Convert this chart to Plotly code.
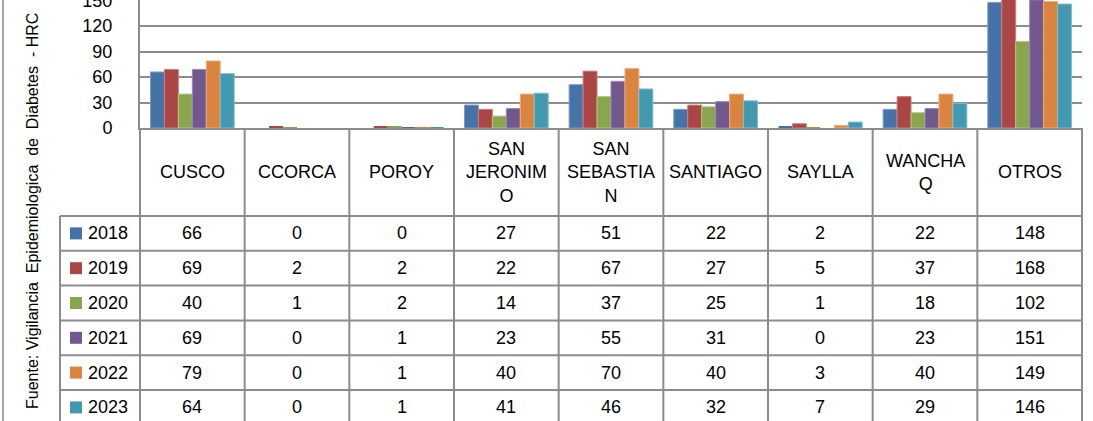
import plotly.graph_objects as go

# ---------------- data ----------------
categories = ["CUSCO", "CCORCA", "POROY", "SAN JERONIMO", "SAN SEBASTIAN",
              "SANTIAGO", "SAYLLA", "WANCHAQ", "OTROS"]
category_labels = ["CUSCO", "CCORCA", "POROY", "SAN<br>JERONIM<br>O",
                   "SAN<br>SEBASTIA<br>N", "SANTIAGO", "SAYLLA", "WANCHA<br>Q", "OTROS"]
years = ["2018", "2019", "2020", "2021", "2022", "2023"]
v2018 = [66, 0, 0, 27, 51, 22, 2, 22, 148]
v2019 = [69, 2, 2, 22, 67, 27, 5, 37, 168]
v2020 = [40, 1, 2, 14, 37, 25, 1, 18, 102]
v2021 = [69, 0, 1, 23, 55, 31, 0, 23, 151]
v2022 = [79, 0, 1, 40, 70, 40, 3, 40, 149]
v2023 = [64, 0, 1, 41, 46, 32, 7, 29, 146]
y_ticks = [0, 30, 60, 90, 120, 150]
axis_title = "Fuente: Vigilancia\u00a0\u00a0Epidemiologica\u00a0\u00a0de\u00a0\u00a0Diabetes\u00a0\u00a0-\u00a0HRC"

series = [v2018, v2019, v2020, v2021, v2022, v2023]

# ---------------- styles / layout constants ----------------
colors = ["#4572A7", "#AA4643", "#89A54E", "#71588F", "#DB843D", "#4198AF"]
edge_colors = ["#7B9CC6", "#CC7E7B", "#B0C886", "#9C88B5", "#EEAE7C", "#7CC0D2"]
FONT = "Liberation Sans"
GRID = "#8C8C8C"
W, H = 1093, 421
PLOT_L, PLOT_R, PLOT_BOT = 140, 1082, 128
HEADER_BOT = 216
ROW_H = 34.8
LEG_L = 60


def fx(px):
    return px / W


def fy(py):
    return 1 - py / H


fig = go.Figure()
for yr, vals, c, ec in zip(years, series, colors, edge_colors):
    fig.add_trace(go.Bar(x=categories, y=vals, name=yr, marker_color=c,
                         marker_line=dict(color=ec, width=[1 if v > 2 else 0 for v in vals]),
                         showlegend=False, hoverinfo="skip"))

shapes = []
annotations = []

# header row (category labels)
for cat, lab in zip(categories, category_labels):
    annotations.append(dict(x=cat, xref="x", y=fy((PLOT_BOT + HEADER_BOT) / 2), yref="paper",
                            text=lab, showarrow=False, xanchor="center", yanchor="middle",
                            font=dict(family=FONT, size=18, color="#000")))

# data rows
for j, (yr, vals, c) in enumerate(zip(years, series, colors)):
    cy = HEADER_BOT + ROW_H * (j + 0.5)
    for cat, v in zip(categories, vals):
        annotations.append(dict(x=cat, xref="x", y=fy(cy), yref="paper", text=str(v),
                                showarrow=False, xanchor="center", yanchor="middle",
                                font=dict(family=FONT, size=18, color="#000")))
    shapes.append(dict(type="rect", xref="paper", yref="paper",
                       x0=fx(70), x1=fx(82), y0=fy(cy - 6), y1=fy(cy + 6),
                       fillcolor=c, line=dict(width=0)))
    annotations.append(dict(x=fx(86), xref="paper", y=fy(cy), yref="paper", text=yr,
                            showarrow=False, xanchor="left", yanchor="middle",
                            font=dict(family=FONT, size=18, color="#000")))

# table grid lines
line_style = dict(color=GRID, width=2)
for k in range(len(years) + 1):
    y = HEADER_BOT + ROW_H * k
    shapes.append(dict(type="line", xref="paper", yref="paper", x0=fx(LEG_L), x1=fx(PLOT_R),
                       y0=fy(y), y1=fy(y), line=line_style))
shapes.append(dict(type="line", xref="paper", yref="paper", x0=fx(LEG_L), x1=fx(LEG_L),
                   y0=fy(HEADER_BOT), y1=fy(H + 5), line=line_style))
for xpx in (PLOT_L, PLOT_R):
    shapes.append(dict(type="line", xref="paper", yref="paper", x0=fx(xpx), x1=fx(xpx),
                       y0=fy(PLOT_BOT), y1=fy(H + 5), line=line_style))
for i in range(1, len(categories)):
    shapes.append(dict(type="line", xref="x", yref="paper", x0=i - 0.5, x1=i - 0.5,
                       y0=fy(PLOT_BOT), y1=fy(H + 5), line=line_style))
# outer chart border on the far left
shapes.append(dict(type="line", xref="paper", yref="paper", x0=fx(3), x1=fx(3),
                   y0=fy(-5), y1=fy(H + 5), line=dict(color="#A6A6A6", width=2)))

# y-axis title
annotations.append(dict(x=fx(32), xref="paper", y=fy(211), yref="paper", text=axis_title,
                        textangle=-90, showarrow=False, xanchor="center", yanchor="middle",
                        font=dict(family=FONT, size=16, color="#000")))

fig.update_layout(
    width=W, height=H, autosize=False,
    margin=dict(l=0, r=0, t=0, b=0, pad=0, autoexpand=False),
    paper_bgcolor="white", plot_bgcolor="white",
    barmode="group", bargap=0.2, bargroupgap=0,
    shapes=shapes, annotations=annotations,
    hovermode=False,
    xaxis=dict(domain=[fx(PLOT_L), fx(PLOT_R)], range=[-0.5, len(categories) - 0.5],
               showticklabels=False, showgrid=False, zeroline=False, automargin=False,
               showline=True, linecolor=GRID, linewidth=2, ticks=""),
    yaxis=dict(domain=[fy(PLOT_BOT), 1], range=[0, 150.8], tickvals=y_ticks,
               showgrid=True, gridcolor=GRID, gridwidth=1.5, zeroline=False, automargin=False,
               showline=True, linecolor=GRID, linewidth=2, ticks="",
               ticklabelstandoff=22, ticklabeloverflow="allow",
               tickfont=dict(family=FONT, size=18, color="#000")),
)

fig.write_html("out.html", config={"displayModeBar": False},
               post_script="document.body.style.margin='0';document.body.style.overflow='hidden';")
